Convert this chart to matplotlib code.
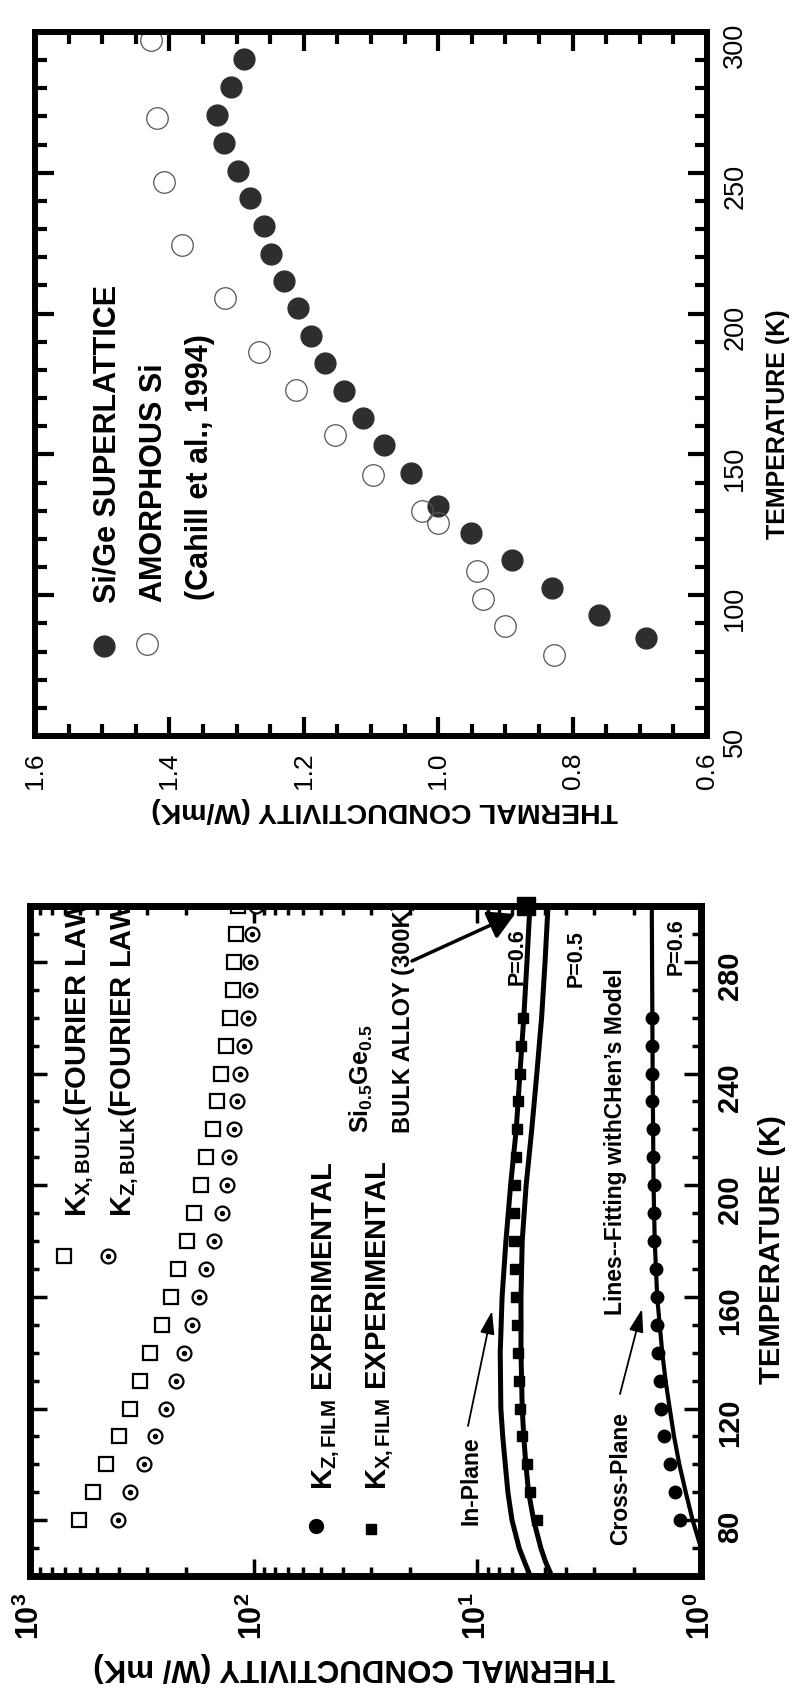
import numpy as np
import matplotlib
matplotlib.use("Agg")
import matplotlib.pyplot as plt
from matplotlib.ticker import MultipleLocator, LogLocator, NullFormatter, FuncFormatter

# ---- data: upper panel (linear) ----
sl_t = [84.7, 93, 102.6, 112.4, 122, 131.8, 143.5, 153.2, 163, 172.6, 182.4,
        192.1, 202.1, 211.5, 221.3, 231, 240.9, 250.7, 260.7, 270.7, 280.5, 290.4]
sl_k = [0.691, 0.761, 0.831, 0.890, 0.951, 1.000, 1.040, 1.081, 1.112, 1.140, 1.169,
        1.189, 1.209, 1.229, 1.249, 1.259, 1.280, 1.298, 1.319, 1.329, 1.308, 1.289]
am_t = [78.9, 89.1, 98.8, 108.6, 125.7, 130, 142.7, 156.9, 173, 186.5, 205.4,
        224.2, 246.6, 269.5, 297.2]
am_k = [0.828, 0.900, 0.934, 0.942, 1.000, 1.024, 1.097, 1.154, 1.212, 1.267, 1.317,
        1.381, 1.408, 1.418, 1.428]

# ---- data: lower panel (log) ----
bulk_t = [80, 90, 100, 110, 120, 130, 140, 150, 160, 170, 180, 190, 200, 210, 220,
          230, 240, 250, 260, 270, 280, 290, 300]
kx_bulk = [603, 521, 457, 402, 356, 323, 291, 258, 235, 217, 199, 185, 172, 163, 152,
           146, 140, 133, 128, 124, 122, 120, 118]
kz_bulk = [406, 356, 310, 275, 247, 223, 204, 189, 175, 164, 151, 138, 131, 129, 122,
           119, 115, 110, 106, 104, 104, 102, 98]

film_t = [80, 90, 100, 110, 120, 130, 140, 150, 160, 170, 180, 190, 200, 210, 220,
          230, 240, 250, 260]
kx_film = [5.43, 5.82, 5.98, 6.3, 6.45, 6.52, 6.6, 6.66, 6.72, 6.8, 6.85, 6.85, 6.8,
           6.75, 6.65, 6.55, 6.45, 6.35, 6.25]
kz_film = [1.24, 1.31, 1.38, 1.47, 1.51, 1.53, 1.55, 1.57, 1.57, 1.59, 1.62, 1.63,
           1.63, 1.64, 1.64, 1.65, 1.65, 1.66, 1.66]

fit_t = [60, 65, 70, 80, 90, 100, 110, 120, 140, 160, 180, 200, 220, 240, 260, 280, 300]
in_p06 = [5.8, 6.15, 6.5, 7.0, 7.3, 7.5, 7.7, 7.85, 7.9, 7.75, 7.45, 7.1, 6.7, 6.45,
          6.2, 6.0, 5.82]
in_p05 = [4.65, 4.95, 5.2, 5.6, 5.9, 6.07, 6.2, 6.3, 6.38, 6.38, 6.3, 6.05, 5.71, 5.42,
          5.16, 4.98, 4.83]
cross_t = [60, 65, 70, 80, 90, 100, 110, 120, 130, 140, 150, 160, 180, 200, 240, 300]
cross_p06 = [0.88, 0.94, 1.0, 1.09, 1.17, 1.25, 1.32, 1.38, 1.44, 1.49, 1.53, 1.57,
             1.61, 1.63, 1.645, 1.66]

alloy_t = [300]
alloy_k = [6.07]

# ---- styling ----
plt.rcParams['font.family'] = ['Liberation Sans', 'DejaVu Sans']
plt.rcParams['mathtext.fontset'] = 'custom'
plt.rcParams['mathtext.rm'] = 'Liberation Sans'
plt.rcParams['mathtext.bf'] = 'Liberation Sans:bold'
plt.rcParams['mathtext.it'] = 'Liberation Sans:italic'
plt.rcParams['mathtext.default'] = 'bf'

W, H = 799, 1690
fig = plt.figure(figsize=(W / 100, H / 100), dpi=100)


def fpt(x, y):
    return x / W, 1 - y / H


def axes_px(l, t, r, b):
    return fig.add_axes([l / W, 1 - b / H, (r - l) / W, (b - t) / H])


def vtext(ax, x, y, s, size, **kw):
    # rotated text starting at (x, y) pixel, baseline vertical at x
    ax.text(*fpt(x, y), s, transform=fig.transFigure, rotation=90,
            rotation_mode='anchor', ha='left', va='baseline',
            fontsize=size, fontweight='bold', **kw)


def legend_mark(ax, x, y, **kw):
    ax.plot(*[[v] for v in fpt(x, y)], transform=fig.transFigure, clip_on=False, **kw)


def arrow(ax, start, end, style, lw):
    ax.annotate('', xy=fpt(*end), xytext=fpt(*start), xycoords='figure fraction',
                textcoords='figure fraction',
                arrowprops=dict(arrowstyle=style, lw=lw, color='k',
                                mutation_scale=20, shrinkA=0, shrinkB=0))


# ================= upper panel =================
ax1 = axes_px(35, 33, 707, 737)
dark = '#2e2e2e'
ax1.plot(sl_k, sl_t, 'o', ms=15, mfc=dark, mec=dark, ls='none')
ax1.plot(am_k, am_t, 'o', ms=15.5, mfc='none', mec='#555555', mew=0.9, ls='none')
ax1.set_xlim(1.6, 0.6)
ax1.set_ylim(50, 300)
ax1.xaxis.set_major_locator(MultipleLocator(0.2))
ax1.xaxis.set_minor_locator(MultipleLocator(0.05))
ax1.yaxis.set_major_locator(MultipleLocator(50))
ax1.yaxis.set_minor_locator(MultipleLocator(10))
ax1.xaxis.set_major_formatter(FuncFormatter(lambda v, p: f"{v:.1f}"))
ax1.tick_params(which='both', direction='in', top=True, bottom=True, left=True,
                right=True, width=3, labelleft=False, labelright=True)
ax1.tick_params(which='major', length=14)
ax1.tick_params(which='minor', length=8.5)
ax1.tick_params(axis='x', labelrotation=90, labelsize=19, pad=11)
ax1.tick_params(axis='y', labelrotation=90, labelsize=19.5, pad=11)
for sp in ax1.spines.values():
    sp.set_linewidth(4.3)

legend_mark(ax1, 104, 647, marker='o', ms=15, mfc=dark, mec=dark)
legend_mark(ax1, 147, 645, marker='o', ms=15.5, mfc='none', mec='#555555', mew=0.9)
vtext(ax1, 116, 603, "Si/Ge SUPERLATTICE", 22)
vtext(ax1, 162, 602, "AMORPHOUS Si", 22)
vtext(ax1, 208, 600, "(Cahill et al., 1994)", 22)

fig.text(*fpt(778, 424), "TEMPERATURE (K)", rotation=90, ha='center', va='center',
         fontsize=18, fontweight='bold')
fig.text(*fpt(385, 810), "THERMAL CONDUCTIVITY (W/mK)", rotation=180, ha='center',
         va='center', fontsize=20.5, fontweight='bold')

# ================= lower panel =================
ax2 = axes_px(30, 907, 701, 1577)
ax2.set_xscale('log')
ax2.plot(kx_bulk, bulk_t, 's', ms=9.5, mfc='white', mec='k', mew=1.6, ls='none')
ax2.plot(kz_bulk, bulk_t, 'o', ms=10, mfc='white', mec='k', mew=1.6, ls='none')
ax2.plot(kz_bulk, bulk_t, 'o', ms=2.8, mfc='k', mec='k', ls='none')
ax2.plot(in_p06, fit_t, '-', color='k', lw=3.6)
ax2.plot(in_p05, fit_t, '-', color='k', lw=3.6)
ax2.plot(kx_film, film_t, 's', ms=6.5, color='k', ls='none')
ax2.plot(cross_p06, cross_t, '-', color='k', lw=3.0)
ax2.plot(kz_film, film_t, 'o', ms=9, color='k', ls='none')
ax2.plot(alloy_k, alloy_t, 's', ms=13.5, color='k', ls='none', clip_on=False, zorder=5)
ax2.set_xlim(1000, 1)
ax2.set_ylim(60, 300)
ax2.xaxis.set_major_locator(LogLocator(base=10, numticks=10))
ax2.xaxis.set_minor_locator(LogLocator(base=10, subs=np.arange(2, 10), numticks=10))
ax2.xaxis.set_minor_formatter(NullFormatter())
ax2.xaxis.set_major_formatter(
    FuncFormatter(lambda v, p: r"$\mathbf{10^{%d}}$" % round(np.log10(v))))
ax2.yaxis.set_major_locator(MultipleLocator(40))
ax2.yaxis.set_minor_locator(MultipleLocator(10))
ax2.tick_params(which='both', direction='in', top=True, bottom=True, left=True,
                right=True, width=2.5, labelleft=False, labelright=True)
ax2.tick_params(which='major', length=12)
ax2.tick_params(which='minor', length=6.5)
ax2.tick_params(axis='x', labelrotation=90, labelsize=22, pad=11)
ax2.tick_params(axis='y', labelrotation=90, labelsize=21, pad=11)
for lab in ax2.get_yticklabels():
    lab.set_fontweight('bold')
for sp in ax2.spines.values():
    sp.set_linewidth(5)

legend_mark(ax2, 64, 1257, marker='s', ms=9.5, mfc='white', mec='k', mew=1.6)
legend_mark(ax2, 108, 1257, marker='o', ms=10, mfc='white', mec='k', mew=1.6)
legend_mark(ax2, 108, 1257, marker='o', ms=2.8, mfc='k', mec='k')
legend_mark(ax2, 316, 1527, marker='o', ms=10, color='k')
legend_mark(ax2, 371, 1530, marker='s', ms=7, color='k')
vtext(ax2, 86, 1217, r"K$_{X,BULK}$(FOURIER LAW)", 21, clip_on=True)
vtext(ax2, 131, 1217, r"K$_{Z,BULK}$(FOURIER LAW)", 21, clip_on=True)
vtext(ax2, 332, 1490, r"K$_{Z,FILM}$ EXPERIMENTAL", 21)
vtext(ax2, 386, 1490, r"K$_{X,FILM}$ EXPERIMENTAL", 21)
vtext(ax2, 369, 1133, r"Si$_{0.5}$Ge$_{0.5}$", 18)
vtext(ax2, 410, 1133, "BULK ALLOY (300K)", 17, clip_on=True)
vtext(ax2, 523, 985, "P=0.6", 15.5)
vtext(ax2, 582, 987, "P=0.5", 15.5)
vtext(ax2, 682, 975, "P=0.6", 15.5)
vtext(ax2, 622, 1315, "Lines--Fitting withCHen\u2019s Model", 16.5)
vtext(ax2, 627, 1545, "Cross-Plane", 16.5)
vtext(ax2, 478, 1525, "In-Plane", 16.5)

arrow(ax2, (468, 1427), (492, 1312), '-|>,head_length=0.7,head_width=0.22', 1.3)
arrow(ax2, (620, 1395), (642, 1310), '-|>,head_length=0.7,head_width=0.22', 1.3)
arrow(ax2, (412, 962), (515, 915), '-|>,head_length=0.8,head_width=0.45', 2.5)

fig.text(*fpt(772, 1250), "TEMPERATURE (K)", rotation=90, ha='center', va='center',
         fontsize=21, fontweight='bold')
fig.text(*fpt(354, 1667), "THERMAL CONDUCTIVITY (W/ mK)", rotation=180, ha='center',
         va='center', fontsize=22.5, fontweight='bold')

fig.savefig("out.png", dpi=100)
